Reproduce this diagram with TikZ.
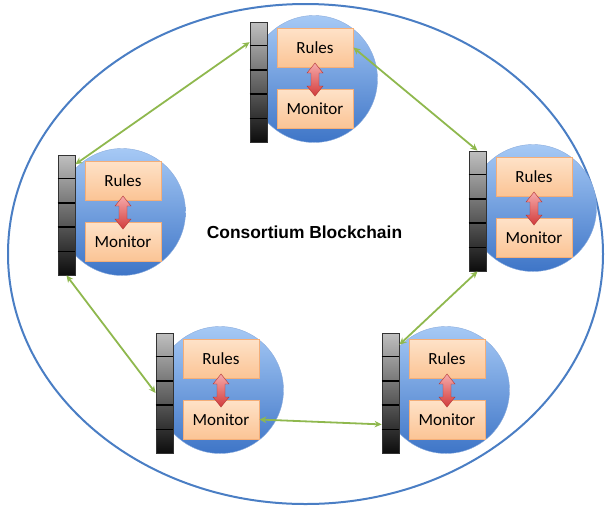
\documentclass[tikz,border=0pt]{standalone}
\usepackage{fontspec}
\setmainfont{Carlito}
\newfontfamily\titlefont{Liberation Sans}
\usetikzlibrary{arrows.meta,calc,positioning}

\definecolor{ringblue}{HTML}{4A7EC4}
\definecolor{linkgreen}{HTML}{8FB84E}
\definecolor{discTop}{HTML}{A6C9F5}
\definecolor{discBot}{HTML}{3E75C7}
\definecolor{boxTop}{HTML}{FEE2C8}
\definecolor{boxBot}{HTML}{FBC495}
\definecolor{boxLine}{HTML}{F4AE78}
\definecolor{swapTop}{HTML}{F6AAAA}
\definecolor{swapBot}{HTML}{D23C3C}

% one peer: ledger stack, disc, rules and monitor
\newcommand{\peer}[3]{%
  \begin{scope}[shift={(#2,#3)}]
    \node[disc] (#1-c) at (64,57) {};
    \node[ledger] (#1-s) at (8.5,60) {};
    \foreach \k in {1,...,4}
      \draw[cellsep] ($(#1-s.north west)!\k/5!(#1-s.south west)$)
        -- ($(#1-s.north east)!\k/5!(#1-s.south east)$);
    \node[rulebox] (#1-r) at (65,25.5) {Rules};
    \node[rulebox] (#1-m) at (65,86.5) {Monitor};
    \path[swap] (65,41) -- (73,51) -- (69,51) -- (69,64) -- (73,64) -- (65,74)
      -- (57,64) -- (61,64) -- (61,51) -- (57,51) -- cycle;
  \end{scope}}

\begin{document}
\begin{tikzpicture}[x=1pt,y=-1pt,>=Stealth,
    disc/.style={circle,minimum size=127pt,inner sep=0pt,
                 top color=discTop,bottom color=discBot,draw=discBot!60!white,line width=0.4pt},
    ledger/.style={rectangle,minimum width=17pt,minimum height=120pt,inner sep=0pt,
                   top color=black!25,bottom color=black!95,draw=black!80,line width=0.8pt},
    cellsep/.style={black,line width=1.4pt},
    rulebox/.style={rectangle,minimum width=76pt,minimum height=39pt,inner sep=0pt,
                    top color=boxTop,bottom color=boxBot,draw=boxLine,line width=0.8pt,
                    font=\fontsize{17}{20}\selectfont},
    swap/.style={top color=swapTop,bottom color=swapBot,draw=swapBot!85!black,line width=0.4pt},
    link/.style={draw=linkgreen,line width=1.8pt,>={Stealth[length=7pt,width=6.5pt]},<->}]
  \useasboundingbox (0,0) rectangle (605,507);
  \draw[ringblue,line width=2pt] (305.5,254) ellipse [x radius=297.5,y radius=250];

  \peer{T}{250}{22}
  \peer{L}{58}{155}
  \peer{R}{469}{151}
  \peer{BL}{156}{333}
  \peer{BR}{382}{333}

  \node[font=\titlefont\bfseries\fontsize{17.4}{20}\selectfont] (title) at (304.5,232) {Consortium Blockchain};

  % links between peers
  \draw[link] ($(L-s.north east)!0.08!(L-s.south east)$) -- ($(T-s.north west)!0.17!(T-s.south west)$);
  \draw[link] (T-r.east) -- (R-s.north);
  \draw[link] (R-s.south) -- ($(BR-s.north east)!0.1!(BR-s.south east)$);
  \draw[link] (BL-m.east) -- ($(BR-s.north west)!0.76!(BR-s.south west)$);
  \draw[link] (BL-s.west) -- (L-s.south);
\end{tikzpicture}
\end{document}
